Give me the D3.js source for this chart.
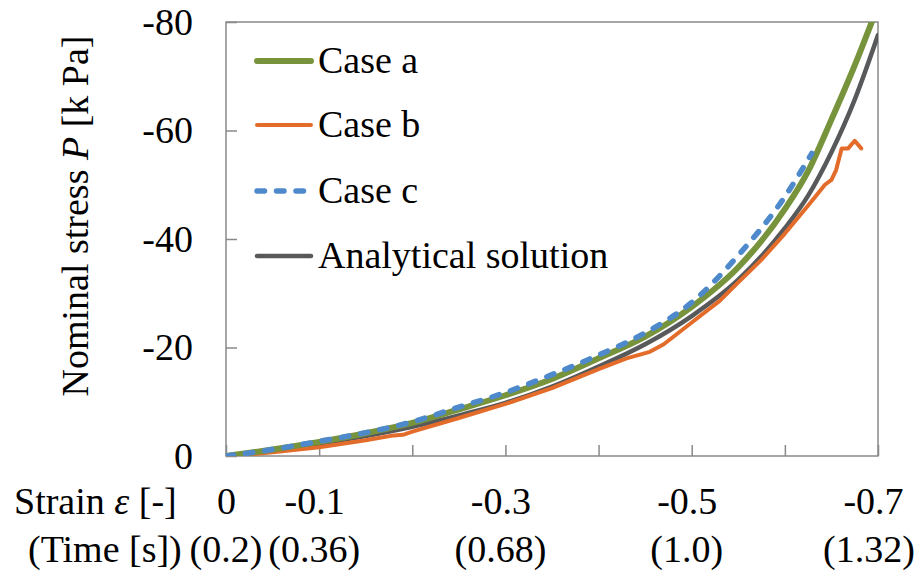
<!DOCTYPE html>
<html>
<head>
<meta charset="utf-8">
<title>Nominal stress vs strain</title>
<script src="https://cdn.jsdelivr.net/npm/d3@7"></script>
<style>
  body { margin: 0; background: #fff; }
  svg, svg text { font-family: "Liberation Serif", "Tinos", "Times New Roman", "Nimbus Roman", "DejaVu Serif", "Noto Serif", serif; }
</style>
</head>
<body>
<div id="chart"></div>
<script>
// values (strain [-], nominal stress [kPa])
const strainA = [0, -0.05, -0.1, -0.15, -0.2, -0.25, -0.3, -0.35, -0.4, -0.45, -0.5, -0.55, -0.6, -0.625, -0.65, -0.675, -0.7];
const stressA = [0, -1.2, -2.6, -4.2, -6.1, -8.6, -11.2, -14.2, -18.0, -22.0, -27.5, -34.8, -45.5, -52.5, -62.0, -72.0, -83.0];

const strainB = [0, -0.02, -0.05, -0.1, -0.15, -0.18, -0.19, -0.2, -0.25, -0.3, -0.35, -0.4, -0.43, -0.455, -0.47, -0.5, -0.53, -0.55, -0.575, -0.6, -0.627, -0.643, -0.65, -0.655, -0.661, -0.668, -0.675, -0.682];
const stressB = [0, -0.2, -0.7, -1.6, -2.9, -3.8, -3.9, -4.5, -7.0, -9.6, -12.5, -16.0, -18.0, -19.2, -20.6, -24.6, -28.6, -32.0, -36.2, -41.0, -46.6, -50.0, -50.9, -52.7, -56.7, -56.7, -58.1, -56.7];

const strainC = [0, -0.05, -0.1, -0.15, -0.2, -0.25, -0.3, -0.35, -0.4, -0.45, -0.5, -0.55, -0.6, -0.629];
const stressC = [0, -1.2, -2.7, -4.3, -6.3, -9.0, -11.7, -15.0, -18.6, -22.7, -28.3, -37.0, -47.8, -55.8];

const strainAn = [0, -0.05, -0.1, -0.15, -0.2, -0.25, -0.3, -0.35, -0.4, -0.45, -0.5, -0.55, -0.6, -0.625, -0.65, -0.675, -0.7];
const stressAn = [0, -1.1, -2.3, -3.7, -5.4, -7.5, -9.8, -12.8, -16.5, -20.6, -25.8, -32.5, -42.0, -48.0, -56.0, -65.7, -77.6];

const seriesNames = ["Case a", "Case b", "Case c", "Analytical solution"];

const xTicks = [0, -0.1, -0.2, -0.3, -0.4, -0.5, -0.6, -0.7];
const xLabelled = [0, -0.1, -0.3, -0.5, -0.7];
const timeLabels = ["(0.2)", "(0.36)", "(0.68)", "(1.0)", "(1.32)"];
const yTicks = [0, -20, -40, -60, -80];

const width = 923, height = 578;
const pLeft = 226, pRight = 878, pTop = 22, pBottom = 456;
const serif = '"Liberation Serif", "Tinos", "Times New Roman", "Nimbus Roman", "DejaVu Serif", "Noto Serif", serif';

const svg = d3.select("#chart").append("svg")
    .attr("width", width)
    .attr("height", height)
    .attr("font-family", serif);

svg.append("rect").attr("width", width).attr("height", height).attr("fill", "#fff");

const x = d3.scaleLinear().domain([0, -0.7]).range([pLeft, pRight]);
const y = d3.scaleLinear().domain([0, -80]).range([pBottom, pTop]);

svg.append("defs").append("clipPath").attr("id", "plot")
  .append("rect")
    .attr("x", pLeft).attr("y", pTop)
    .attr("width", pRight - pLeft).attr("height", pBottom - pTop);

// y axis, ticks pointing inward; plain hyphen for the sign like the original
const yAxis = svg.append("g")
    .attr("transform", `translate(${pLeft},0)`)
    .call(d3.axisLeft(y).tickValues(yTicks).tickSize(-11).tickPadding(33).tickFormat(d => String(d)));
yAxis.attr("font-family", serif);
yAxis.select(".domain").remove();
yAxis.selectAll("line").attr("stroke", "#898989").attr("stroke-width", 1.5);
yAxis.selectAll("text").attr("font-size", 38).attr("fill", "#000");

// x axis
const xAxis = svg.append("g")
    .attr("transform", `translate(0,${pBottom})`)
    .call(d3.axisBottom(x).tickValues(xTicks).tickSize(-11).tickPadding(31)
      .tickFormat(d => xLabelled.includes(d) ? (d === 0 ? "0" : d.toFixed(1)) : ""));
xAxis.attr("font-family", serif);
xAxis.select(".domain").remove();
xAxis.selectAll("line").attr("stroke", "#898989").attr("stroke-width", 1.5);
xAxis.selectAll("text").attr("font-size", 38).attr("fill", "#000")
    .attr("dx", d => d === 0 ? 0 : -5);

// frame
svg.append("rect")
    .attr("x", pLeft).attr("y", pTop)
    .attr("width", pRight - pLeft).attr("height", pBottom - pTop)
    .attr("fill", "none").attr("stroke", "#898989").attr("stroke-width", 1.5);

// time row under the strain labels
svg.append("g").selectAll("text")
  .data(xLabelled)
  .join("text")
    .attr("x", d => d === 0 ? x(d) : Math.min(x(d) - 5, 869))
    .attr("y", 562)
    .attr("text-anchor", "middle")
    .attr("font-size", 38)
    .text((d, i) => timeLabels[i]);

const rowLabel = svg.append("g").attr("font-size", 38);
const strainLab = rowLabel.append("text").attr("x", 14).attr("y", 514);
strainLab.append("tspan").text("Strain ");
strainLab.append("tspan").attr("font-style", "italic").text("ε");
strainLab.append("tspan").text(" [-]");
rowLabel.append("text").attr("x", 28).attr("y", 562).text("(Time [s])");

// y axis title
const yTitle = svg.append("text")
    .attr("transform", "translate(88,216) rotate(-90)")
    .attr("text-anchor", "middle")
    .attr("font-size", 38);
yTitle.append("tspan").text("Nominal stress ");
yTitle.append("tspan").attr("font-style", "italic").text("P");
yTitle.append("tspan").text(" [k Pa]");

const series = [
  { name: seriesNames[0], xs: strainA, ys: stressA, color: "#77933C", w: 6, dash: null, curve: d3.curveMonotoneX },
  { name: seriesNames[1], xs: strainB, ys: stressB, color: "#E46C2A", w: 4, dash: null, curve: d3.curveLinear },
  { name: seriesNames[2], xs: strainC, ys: stressC, color: "#4E8ACB", w: 5.5, dash: "7.5 12", curve: d3.curveMonotoneX },
  { name: seriesNames[3], xs: strainAn, ys: stressAn, color: "#58595B", w: 4.5, dash: null, curve: d3.curveMonotoneX }
];

const plot = svg.append("g").attr("clip-path", "url(#plot)");
// draw order: analytical, b, a, c on top
[3, 1, 0, 2].forEach(k => {
  const s = series[k];
  const pts = s.xs.map((v, i) => [v, s.ys[i]]);
  plot.append("path")
      .datum(pts)
      .attr("fill", "none")
      .attr("stroke", s.color)
      .attr("stroke-width", s.w)
      .attr("stroke-linejoin", "round")
      .attr("stroke-linecap", "round")
      .attr("stroke-dasharray", s.dash)
      .attr("d", d3.line().x(d => x(d[0])).y(d => y(d[1])).curve(s.curve));
});

// legend
const legend = svg.append("g");
const rows = [61, 125, 191, 256];
series.forEach((s, i) => {
  legend.append("line")
      .attr("x1", 257).attr("x2", 311)
      .attr("y1", rows[i]).attr("y2", rows[i])
      .attr("stroke", s.color)
      .attr("stroke-width", s.w)
      .attr("stroke-linecap", "round")
      .attr("stroke-dasharray", s.dash);
  legend.append("text")
      .attr("x", 318).attr("y", rows[i] + 12)
      .attr("font-size", 38)
      .text(s.name);
});
</script>
</body>
</html>
